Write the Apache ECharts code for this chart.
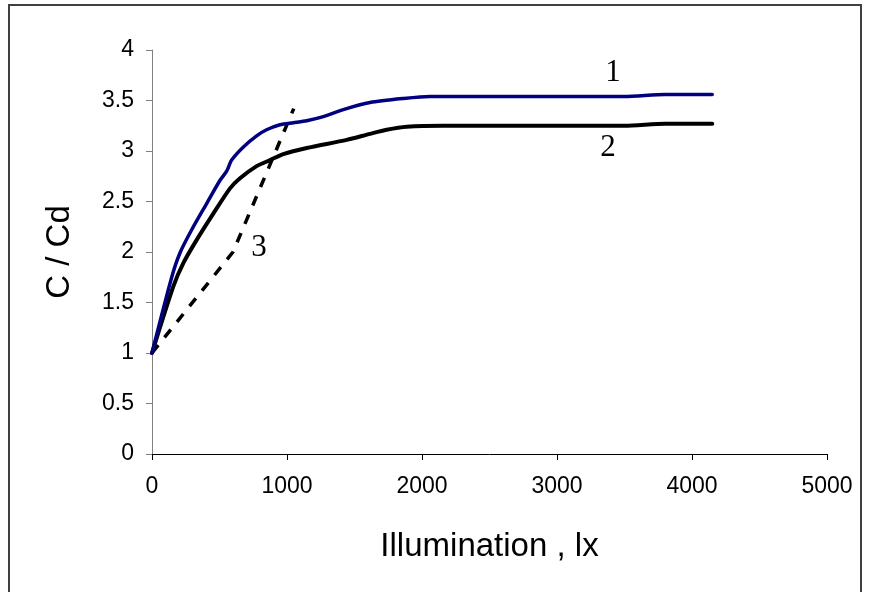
<!DOCTYPE html>
<html>
<head>
<meta charset="utf-8">
<script src="https://cdn.jsdelivr.net/npm/echarts@6/dist/echarts.min.js"></script>
<style>
  html, body { margin: 0; padding: 0; background: #fff; }
  #chart { width: 872px; height: 592px; }
</style>
</head>
<body>
<div id="chart"></div>
<script>
// curve 1 (blue)
const illum1 = [0, 146, 207, 294, 405, 504, 553, 590, 677, 775, 849, 948, 1047, 1146, 1269, 1417, 1615, 1862, 2059, 3500, 3800, 4150];
const ratio1 = [1.0, 1.75, 1.99, 2.22, 2.48, 2.71, 2.80, 2.91, 3.04, 3.15, 3.21, 3.26, 3.28, 3.30, 3.34, 3.41, 3.48, 3.52, 3.54, 3.54, 3.56, 3.56];
// curve 2 (black)
const illum2 = [0, 158, 232, 331, 454, 578, 652, 775, 874, 973, 1146, 1442, 1615, 1738, 1887, 2158, 3500, 3800, 4150];
const ratio2 = [1.0, 1.66, 1.89, 2.12, 2.38, 2.63, 2.73, 2.85, 2.91, 2.97, 3.03, 3.11, 3.17, 3.21, 3.24, 3.25, 3.25, 3.27, 3.27];
// curve 3 (dashed)
const illum3 = [0, 600, 1050];
const ratio3 = [1.0, 2.0, 3.42];
// curve numbers
const labelText = ['1', '2', '3'];
const labelX = [3415, 3378, 793];
const labelY = [3.77, 3.03, 2.04];

const pairs = (xs, ys) => xs.map((x, i) => [x, ys[i]]);

const chart = echarts.init(document.getElementById('chart'));

const axisFont = { fontFamily: 'Liberation Sans, Arial, sans-serif', fontSize: 23, color: '#000' };

chart.setOption({
  animation: false,
  backgroundColor: '#fff',
  graphic: [{
    type: 'rect',
    shape: { x: 9, y: 5, width: 852, height: 600 },
    style: { fill: 'none', stroke: '#404040', lineWidth: 2 },
    silent: true
  }],
  grid: { left: 152, right: 45, top: 50, bottom: 138 },
  xAxis: {
    type: 'value',
    min: 0,
    max: 5000,
    interval: 1000,
    name: 'Illumination , lx',
    nameLocation: 'middle',
    nameGap: 76,
    nameTextStyle: { fontFamily: 'Liberation Sans, Arial, sans-serif', fontSize: 33, color: '#000' },
    axisLine: { lineStyle: { color: '#000', width: 1 } },
    axisTick: { length: 6, lineStyle: { color: '#000' } },
    axisLabel: Object.assign({ margin: 21, formatter: v => String(v) }, axisFont),
    splitLine: { show: false }
  },
  yAxis: {
    type: 'value',
    min: 0,
    max: 4,
    interval: 0.5,
    name: 'C / Cd',
    nameLocation: 'middle',
    nameGap: 76,
    nameTextStyle: { fontFamily: 'Liberation Sans, Arial, sans-serif', fontSize: 33, color: '#000' },
    axisLine: { show: true, lineStyle: { color: '#808080', width: 1 } },
    axisTick: { show: true, length: 6, lineStyle: { color: '#808080' } },
    axisLabel: Object.assign({ margin: 18 }, axisFont),
    splitLine: { show: false }
  },
  series: [
    {
      type: 'line',
      data: pairs(illum3, ratio3),
      showSymbol: false,
      lineStyle: { color: '#000', width: 3.5, type: [10, 10], cap: 'butt' },
      z: 1
    },
    {
      type: 'line',
      data: pairs(illum2, ratio2),
      showSymbol: false,
      smooth: 0.25,
      lineStyle: { color: '#000', width: 4, cap: 'round' },
      z: 2
    },
    {
      type: 'line',
      data: pairs(illum1, ratio1),
      showSymbol: false,
      smooth: 0.25,
      lineStyle: { color: '#000080', width: 3.5, cap: 'round' },
      z: 3
    },
    {
      type: 'scatter',
      data: pairs(labelX, labelY).map((p, i) => ({ value: p, name: labelText[i] })),
      symbolSize: 0,
      itemStyle: { color: '#000', opacity: 1 },
      label: {
        show: true,
        position: 'inside',
        formatter: p => p.name,
        fontFamily: 'Liberation Serif, Times New Roman, serif',
        fontSize: 31,
        color: '#000',
        opacity: 1,
        textBorderWidth: 0
      },
      z: 4
    }
  ]
});
</script>
</body>
</html>
